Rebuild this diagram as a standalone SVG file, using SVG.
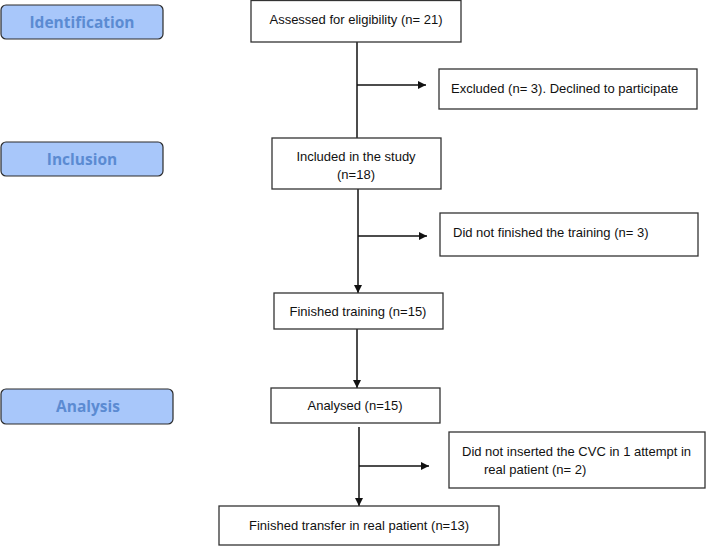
<svg xmlns="http://www.w3.org/2000/svg" width="707" height="546" viewBox="0 0 707 546">
<style>
.stage rect{fill:#a8c7fa;stroke:#2b2b2b;stroke-width:1.2}
.stage text{font-family:"Open Sans","Noto Sans",sans-serif;font-weight:bold;font-size:15.5px;fill:#5b8bd2;text-anchor:middle}
.box rect{fill:#fff;stroke:#333;stroke-width:1.3}
.box text{font-family:"Liberation Sans",Arial,sans-serif;font-size:13px;fill:#111}
.c{text-anchor:middle}
#connectors path{fill:none;stroke:#111;stroke-width:1.5}
</style>
<defs>
<marker id="ah" viewBox="0 0 10 10" refX="10" refY="5" markerWidth="8" markerHeight="8" markerUnits="userSpaceOnUse" orient="auto">
<path d="M0,0 L10,5 L0,10 z" fill="#111"/>
</marker>
</defs>
<rect width="707" height="546" fill="#fff"/>
<g id="stage-identification" class="stage"><rect x="1" y="5" width="162" height="34" rx="5"/><text x="82" y="27.5">Identification</text></g>
<g id="stage-inclusion" class="stage"><rect x="1" y="142" width="162" height="34" rx="5"/><text x="82" y="164.5">Inclusion</text></g>
<g id="stage-analysis" class="stage"><rect x="1" y="389" width="172" height="35" rx="5"/><text x="88" y="411.5">Analysis</text></g>

<g id="connectors">
<path d="M357,42 V138"/>
<path d="M357,85 H426" marker-end="url(#ah)"/>
<path d="M358,189 V293" marker-end="url(#ah)"/>
<path d="M358,236 H427" marker-end="url(#ah)"/>
<path d="M357,329 V388" marker-end="url(#ah)"/>
<path d="M359,427 V506" marker-end="url(#ah)"/>
<path d="M359,466 H429" marker-end="url(#ah)"/>
</g>

<g id="assessed" class="box"><rect x="251" y="0.5" width="210" height="41.5"/><text class="c" x="356" y="23.5">Assessed for eligibility (n= 21)</text></g>
<g id="excluded" class="box"><rect x="439" y="69" width="258" height="40"/><text x="451" y="92.5">Excluded (n= 3). Declined to participate</text></g>
<g id="included" class="box"><rect x="272" y="138" width="169" height="51"/><text class="c" x="356" y="161">Included in the study</text><text class="c" x="356" y="179">(n=18)</text></g>
<g id="notfinished" class="box"><rect x="440" y="213" width="258" height="43"/><text x="453" y="236.5">Did not finished the training (n= 3)</text></g>
<g id="finishedtraining" class="box"><rect x="274" y="293" width="169" height="36"/><text class="c" x="358" y="315.5">Finished training (n=15)</text></g>
<g id="analysed" class="box"><rect x="271" y="388" width="169" height="35"/><text class="c" x="355" y="410">Analysed (n=15)</text></g>
<g id="notinserted" class="box"><rect x="449" y="432" width="256" height="56"/><text x="462" y="456">Did not inserted the CVC in 1 attempt in</text><text x="484" y="473.5">real patient (n= 2)</text></g>
<g id="finishedtransfer" class="box"><rect x="219" y="506" width="280" height="39"/><text class="c" x="359" y="529.5">Finished transfer in real patient (n=13)</text></g>
</svg>
